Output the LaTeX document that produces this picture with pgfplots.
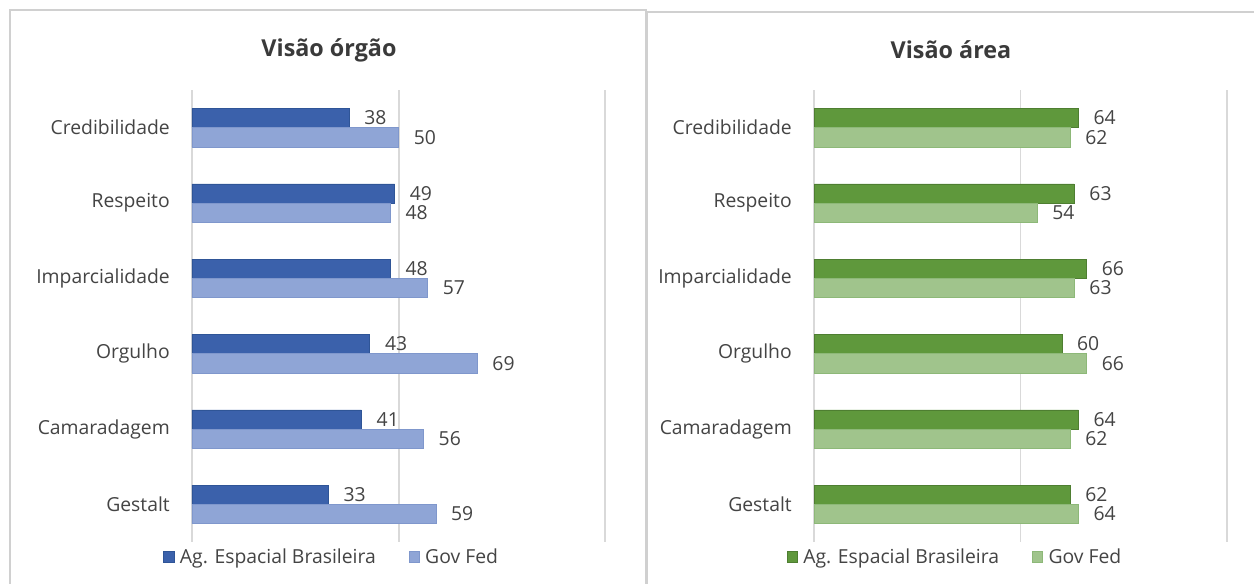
\documentclass[border=0pt]{standalone}
\usepackage{pgfplots}
\pgfplotsset{compat=1.18}
\usepackage{fontspec}
\setmainfont{Open Sans}
\definecolor{darkblue}{HTML}{3B61AB}
\definecolor{darkblueb}{HTML}{2F5597}
\definecolor{lightblue}{HTML}{8FA5D6}
\definecolor{lightblueb}{HTML}{7F97CC}
\definecolor{darkgreen}{HTML}{5F983C}
\definecolor{darkgreenb}{HTML}{4E7E31}
\definecolor{lightgreen}{HTML}{A0C48C}
\definecolor{lightgreenb}{HTML}{8DB878}
\definecolor{gridc}{HTML}{D9D9D9}
\definecolor{txt}{HTML}{444444}
\definecolor{ttl}{HTML}{3A3A3A}
\definecolor{panel}{HTML}{D0D0D0}

\pgfplotsset{
  mybars/.style={
    xbar,
    scale only axis,
    width=310pt, height=339pt,
    xmin=0, xmax=100,
    ymin=-0.5, ymax=5.5,
    y dir=reverse,
    enlargelimits=false,
    clip=false,
    xtick={0,50,100},
    xticklabels={},
    xmajorgrids,
    grid style={draw=gridc, line width=1.4pt},
    ytick={0,1,2,3,4,5},
    yticklabels={Credibilidade,Respeito,Imparcialidade,Orgulho,Camaradagem,Gestalt},
    yticklabel style={anchor=east, inner sep=0pt, xshift=-16.5pt, font=\fontsize{14.5}{16}\selectfont, text=txt},
    major tick length=0pt,
    axis line style={draw=none},
    bar width=0.255,
    point meta=x,
    /pgf/number format/assume math mode=true,
    nodes near coords,
    every node near coord/.append style={anchor=west, inner sep=0pt, xshift=11.25pt, font=\fontsize{14.5}{16}\selectfont, text=txt},
    legend columns=2,
    legend image code/.code={\draw[#1, line width=0.6pt] (0pt,-3.9pt) rectangle (7.8pt,3.9pt);},
    legend style={draw=none, fill=none, inner sep=0pt, font=\fontsize{14.5}{16}\selectfont, text=txt,
      nodes={inner sep=1.6pt},
      /tikz/every odd column/.append style={column sep=2.5pt},
      /tikz/every even column/.append style={column sep=23pt}},
  }
}

\begin{document}
\begin{tikzpicture}
\useasboundingbox (0,0) rectangle (940.5pt,437.25pt);
\begin{scope}
\clip (0,0) rectangle (940.5pt,437.25pt);
\fill[white] (0,0) rectangle (940.5pt,437.25pt);
\draw[panel, line width=1.2pt] (7.5pt,-10pt) rectangle (484.5pt,429.75pt);
\draw[panel, line width=1.2pt] (485.5pt,-10pt) rectangle (950pt,428.25pt);
\end{scope}

\node[font=\bfseries\fontsize{17.5}{20}\selectfont, text=ttl] at (246.75pt,399.75pt) {Visão órgão};
\node[font=\bfseries\fontsize{17.5}{20}\selectfont, text=ttl] at (713.25pt,399.75pt) {Visão área};

\begin{axis}[mybars, at={(144pt,30.75pt)}, anchor=south west,
  legend style={at={(-0.07,-0.0332)}, anchor=west}]
\addplot[fill=darkblue, draw=darkblueb, bar shift=-0.1275] coordinates {(38,0) (49,1) (48,2) (43,3) (41,4) (33,5)};
\addplot[fill=lightblue, draw=lightblueb, bar shift=0.1275] coordinates {(50,0) (48,1) (57,2) (69,3) (56,4) (59,5)};
\legend{Ag. Espacial Brasileira, Gov Fed}
\end{axis}

\begin{axis}[mybars, width=309.75pt, at={(610.5pt,30.75pt)}, anchor=south west,
  legend style={at={(-0.067,-0.0332)}, anchor=west}]
\addplot[fill=darkgreen, draw=darkgreenb, bar shift=-0.1275] coordinates {(64,0) (63,1) (66,2) (60,3) (64,4) (62,5)};
\addplot[fill=lightgreen, draw=lightgreenb, bar shift=0.1275] coordinates {(62,0) (54,1) (63,2) (66,3) (62,4) (64,5)};
\legend{Ag. Espacial Brasileira, Gov Fed}
\end{axis}
\end{tikzpicture}
\end{document}
